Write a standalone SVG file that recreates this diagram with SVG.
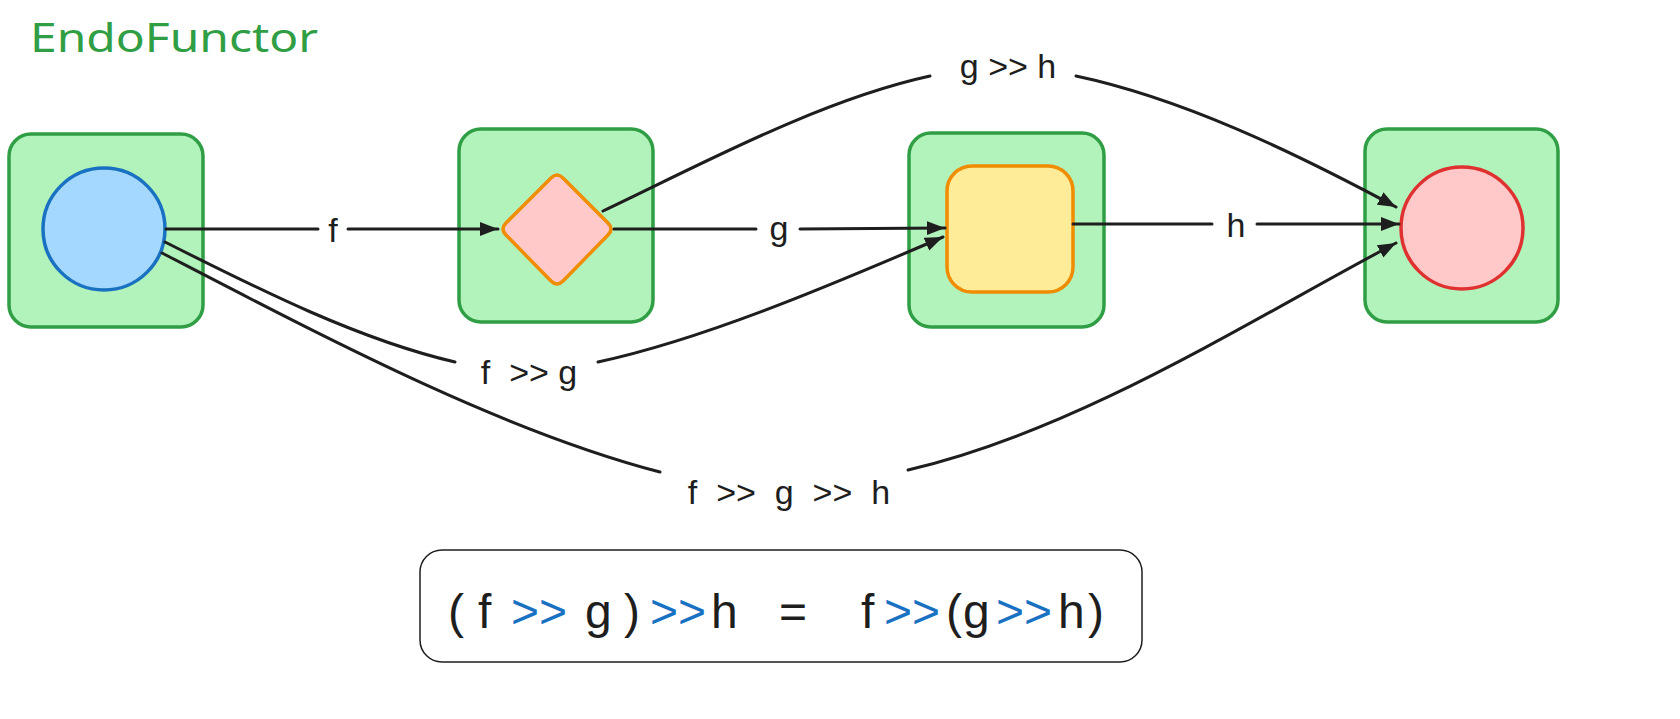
<svg xmlns="http://www.w3.org/2000/svg" width="1680" height="719" viewBox="0 0 1680 719">
<style>
.box{fill:#b2f2bb;stroke:#2f9e44;stroke-width:3.5}
.edge{fill:none;stroke:#1e1e1e;stroke-width:3;stroke-linecap:round}
.lbl{font-family:"Liberation Sans",Arial,sans-serif;font-size:34px;fill:#1e1e1e;text-anchor:middle;white-space:pre}
.eq{font-family:"Liberation Sans",Arial,sans-serif;font-size:48px;fill:#1e1e1e}
.op{fill:#1971c2}
</style>
<defs>
<marker id="arr" markerWidth="20" markerHeight="16" refX="18" refY="7" orient="auto" markerUnits="userSpaceOnUse">
<path d="M0,0 L18,7 L0,14 z" fill="#1e1e1e"/>
</marker>
</defs>
<rect width="1680" height="719" fill="#ffffff"/>
<text x="30" y="52" font-family="'Noto Sans',sans-serif" font-size="40" fill="#2f9e44" textLength="288" lengthAdjust="spacingAndGlyphs">EndoFunctor</text>

<g id="node1">
<rect class="box" x="9" y="134" width="194" height="193" rx="22"/>
<circle cx="104" cy="229" r="61" fill="#a5d8ff" stroke="#1971c2" stroke-width="3.5"/>
</g>
<g id="node2">
<rect class="box" x="459" y="129" width="194" height="193" rx="22"/>
<path d="M551,178 Q557,172 563,178 L608,223 Q614,229 608,235 L563,281 Q557,287 551,281 L506,235 Q500,229 506,223 Z" fill="#ffc9c9" stroke="#f08c00" stroke-width="3.5" stroke-linejoin="round"/>
</g>
<g id="node3">
<rect class="box" x="909" y="133" width="195" height="194" rx="22"/>
<rect x="947" y="166" width="126" height="126" rx="25" fill="#ffec99" stroke="#f08c00" stroke-width="3.5"/>
</g>
<g id="node4">
<rect class="box" x="1365" y="129" width="193" height="193" rx="22"/>
<circle cx="1462" cy="228" r="61" fill="#ffc9c9" stroke="#e03131" stroke-width="3.5"/>
</g>

<g id="connectors">
<path class="edge" d="M166,229 L318,229"/>
<path class="edge" d="M348,229 L498,229" marker-end="url(#arr)"/>
<path class="edge" d="M614,229 L756,229"/>
<path class="edge" d="M800,229 L945,228" marker-end="url(#arr)"/>
<path class="edge" d="M1073,224 L1212,224"/>
<path class="edge" d="M1257,224 L1399,224" marker-end="url(#arr)"/>
<path class="edge" d="M603,211 C700,165 820,100 930,76"/>
<path class="edge" d="M1076,76 C1180,98 1290,150 1396,207" marker-end="url(#arr)"/>
<path class="edge" d="M165,242 C260,290 360,340 455,362"/>
<path class="edge" d="M598,362 C700,340 820,290 943,237" marker-end="url(#arr)"/>
<path class="edge" d="M162,253 C330,340 500,430 660,472"/>
<path class="edge" d="M908,470 C1080,430 1250,320 1396,243" marker-end="url(#arr)"/>
<text class="lbl" x="333" y="242">f</text>
<text class="lbl" x="779" y="240">g</text>
<text class="lbl" x="1236" y="237">h</text>
<text class="lbl" x="1008" y="78">g &gt;&gt; h</text>
<text class="lbl" x="529" y="384">f  &gt;&gt; g</text>
<text class="lbl" x="789" y="504">f  &gt;&gt;  g  &gt;&gt;  h</text>
</g>

<g id="formula">
<rect x="420" y="550" width="722" height="112" rx="22" fill="#ffffff" stroke="#1e1e1e" stroke-width="1.5"/>
<text class="eq" y="628"><tspan x="448">(</tspan><tspan x="478">f</tspan><tspan class="op" x="511">&gt;&gt;</tspan><tspan x="585">g</tspan><tspan x="624">)</tspan><tspan class="op" x="650">&gt;&gt;</tspan><tspan x="711">h</tspan><tspan x="779">=</tspan><tspan x="861">f</tspan><tspan class="op" x="884">&gt;&gt;</tspan><tspan x="946">(</tspan><tspan x="963">g</tspan><tspan class="op" x="996">&gt;&gt;</tspan><tspan x="1058">h</tspan><tspan x="1088">)</tspan></text>
</g>
</svg>
